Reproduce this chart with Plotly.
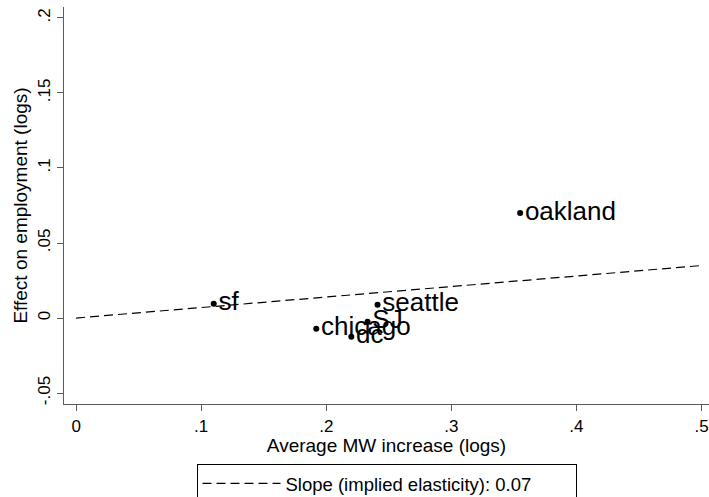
import plotly.graph_objects as go

# Data
cities = ["sf", "oakland", "seattle", "chicago", "SJ", "dc"]
mw_increase = [0.110, 0.355, 0.241, 0.192, 0.233, 0.220]
emp_effect = [0.0095, 0.070, 0.0088, -0.0072, -0.0024, -0.0124]

fit_x = [0.0, 0.5]
fit_y = [0.0, 0.035]
legend_label = "Slope (implied elasticity): 0.07"

x_tickvals = [0, 0.1, 0.2, 0.3, 0.4, 0.5]
x_ticktext = ["0", ".1", ".2", ".3", ".4", ".5"]
y_tickvals = [-0.05, 0, 0.05, 0.1, 0.15, 0.2]
y_ticktext = ["-.05", "0", ".05", ".1", ".15", ".2"]

FONT = "Arial, Liberation Sans, Helvetica, sans-serif"
AXIS_COLOR = "#5a5a5a"

fig = go.Figure()

fig.add_trace(go.Scatter(
    x=fit_x, y=fit_y, mode="lines",
    line=dict(color="black", width=1.2, dash="9px,5px"),
    name=legend_label, showlegend=True, hoverinfo="skip",
))

fig.add_trace(go.Scatter(
    x=mw_increase, y=emp_effect, mode="markers+text",
    text=cities, textposition="middle right",
    textfont=dict(family=FONT, size=26, color="black"),
    marker=dict(color="black", size=6),
    showlegend=False, cliponaxis=False,
))

fig.update_layout(
    width=709, height=497,
    margin=dict(l=64, r=0, t=7, b=93, pad=0, autoexpand=False),
    paper_bgcolor="white", plot_bgcolor="white",
    font=dict(family=FONT, color="black"),
    legend=dict(
        x=0.5, xanchor="center", y=-0.151, yanchor="top",
        bordercolor="black", borderwidth=1, bgcolor="white",
        font=dict(size=18.5, family=FONT, color="black"),
        itemwidth=78, orientation="h",
        entrywidth=285, entrywidthmode="pixels",
    ),
)

fig.update_xaxes(
    range=[-0.0097, 0.506], automargin=False,
    tickvals=x_tickvals, ticktext=x_ticktext,
    tickfont=dict(size=17, family=FONT, color="black"),
    ticks="outside", ticklen=6, tickcolor=AXIS_COLOR, tickwidth=1,
    showline=True, linecolor=AXIS_COLOR, linewidth=1.2,
    showgrid=False, zeroline=False,
    title=dict(text="Average MW increase (logs)", font=dict(size=19, family=FONT, color="black"), standoff=1),
)
fig.update_yaxes(
    range=[-0.0573, 0.2073], automargin=False,
    tickvals=y_tickvals, ticktext=y_ticktext, tickangle=-90,
    tickfont=dict(size=17, family=FONT, color="black"),
    ticks="outside", ticklen=6, tickcolor=AXIS_COLOR, tickwidth=1,
    showline=True, linecolor=AXIS_COLOR, linewidth=1.2,
    showgrid=False, zeroline=False,
    title=dict(text="Effect on employment (logs)", font=dict(size=19, family=FONT, color="black"), standoff=2),
)

fig.write_html("out.html", config={"displayModeBar": False},
               post_script="document.body.style.margin='0';")
